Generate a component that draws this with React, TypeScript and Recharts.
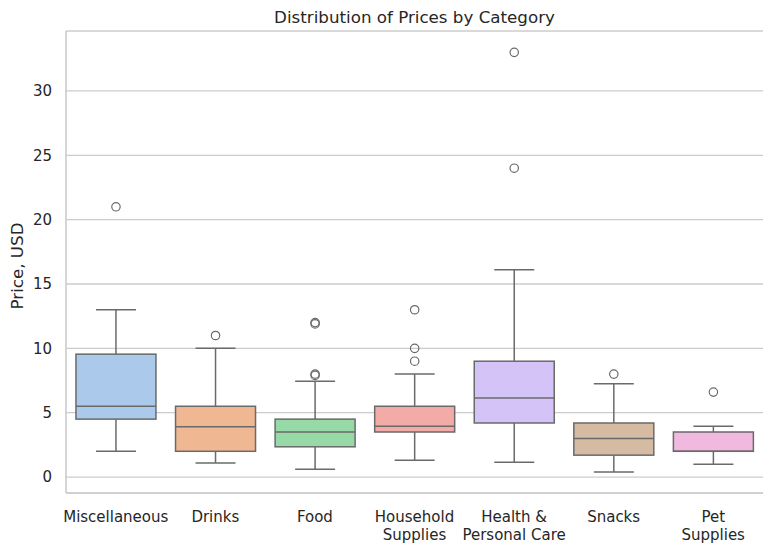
import React from "react";
import { ComposedChart, Bar, XAxis, YAxis, CartesianGrid } from "recharts";

const categories = [
  "Miscellaneous",
  "Drinks",
  "Food",
  "Household\nSupplies",
  "Health &\nPersonal Care",
  "Snacks",
  "Pet\nSupplies",
];
const whiskerLow = [2.0, 1.1, 0.6, 1.3, 1.15, 0.4, 1.0];
const q1 = [4.5, 2.0, 2.35, 3.5, 4.2, 1.7, 2.0];
const median = [5.5, 3.9, 3.5, 3.95, 6.15, 3.0, 2.0];
const q3 = [9.55, 5.5, 4.5, 5.5, 9.0, 4.2, 3.5];
const whiskerHigh = [13.0, 10.0, 7.45, 8.0, 16.1, 7.25, 3.95];
const outliers = [[21], [11], [12, 11.9, 8, 7.9], [13, 10, 9], [33, 24], [8], [6.6]];
const yTicks = [0, 5, 10, 15, 20, 25, 30];

const palette = ["#abc9ea", "#efb792", "#98daa7", "#f3aba8", "#d3c3f6", "#d6bba3", "#f1b9e0"];
const lineColor = "#6a6a6a";
const gridColor = "#cccccc";
const textColor = "#262626";
const font = "'DejaVu Sans', sans-serif";

const data = categories.map((name, i) => ({
  name,
  lo: whiskerLow[i],
  q1: q1[i],
  med: median[i],
  q3: q3[i],
  hi: whiskerHigh[i],
  out: outliers[i],
}));

function BoxShape(props: any) {
  const { x, y, width, height, payload, index } = props;
  const { lo, hi } = payload;
  // map a value to pixels using the bar's own scaled extent (lo..hi)
  const py = (v: number) => y + (height * (hi - v)) / (hi - lo);
  const cx = x + width / 2;
  const cap = width / 4;
  return (
    <g>
      <line x1={cx} x2={cx} y1={py(hi)} y2={py(payload.q3)} stroke={lineColor} strokeWidth={1.5} />
      <line x1={cx} x2={cx} y1={py(payload.q1)} y2={py(lo)} stroke={lineColor} strokeWidth={1.5} />
      <line x1={cx - cap} x2={cx + cap} y1={py(hi)} y2={py(hi)} stroke={lineColor} strokeWidth={1.5} />
      <line x1={cx - cap} x2={cx + cap} y1={py(lo)} y2={py(lo)} stroke={lineColor} strokeWidth={1.5} />
      <rect
        x={x}
        y={py(payload.q3)}
        width={width}
        height={py(payload.q1) - py(payload.q3)}
        fill={palette[index]}
        stroke={lineColor}
        strokeWidth={1.5}
      />
      <line x1={x} x2={x + width} y1={py(payload.med)} y2={py(payload.med)} stroke={lineColor} strokeWidth={1.5} />
      {payload.out.map((v: number, k: number) => (
        <circle key={k} cx={cx} cy={py(v)} r={4.2} fill="none" stroke={lineColor} strokeWidth={1.2} />
      ))}
    </g>
  );
}

function CategoryTick(props: any) {
  const { x, y, payload } = props;
  const lines = String(payload.value).split("\n");
  return (
    <text x={x} y={y + 27} textAnchor="middle" fill={textColor} fontSize={15} fontFamily={font}>
      {lines.map((l, i) => (
        <tspan key={i} x={x} dy={i === 0 ? 0 : 17.5}>
          {l}
        </tspan>
      ))}
    </text>
  );
}

export default function App() {
  return (
    <div style={{ position: "absolute", left: 0, top: 0, width: 773, height: 549, background: "#fff" }}>
      <ComposedChart
        width={773}
        height={549}
        data={data}
        margin={{ top: 31, right: 10, bottom: 0, left: 12 }}
        barCategoryGap="10%"
      >
        <CartesianGrid vertical={false} stroke={gridColor} strokeWidth={1.3} />
        <XAxis
          dataKey="name"
          type="category"
          height={56}
          tickLine={false}
          tickSize={0}
          axisLine={{ stroke: gridColor, strokeWidth: 1.6 }}
          tick={<CategoryTick />}
          interval={0}
        />
        <XAxis xAxisId="top" orientation="top" dataKey="name" height={0} tick={false} tickLine={false} axisLine={{ stroke: gridColor, strokeWidth: 1.6 }} />
        <YAxis
          type="number"
          domain={[-1.24, 34.66]}
          ticks={yTicks}
          width={54}
          tickLine={false}
          tickSize={0}
          tickMargin={14}
          axisLine={{ stroke: gridColor, strokeWidth: 1.6 }}
          tick={{ fill: textColor, fontSize: 15, fontFamily: font }}
          allowDataOverflow
        />
        <YAxis yAxisId="right" orientation="right" width={0} tick={false} tickLine={false} axisLine={{ stroke: gridColor, strokeWidth: 1.6 }} />
        <Bar dataKey={(d: any) => [d.lo, d.hi]} shape={<BoxShape />} isAnimationActive={false} />
      </ComposedChart>
      <svg width={773} height={549} style={{ position: "absolute", left: 0, top: 0, pointerEvents: "none" }}>
        <text x={414.5} y={23} textAnchor="middle" fontSize={16.7} fontFamily={font} fill={textColor}>
          Distribution of Prices by Category
        </text>
        <text
          x={23}
          y={266}
          textAnchor="middle"
          fontSize={16.7}
          fontFamily={font}
          fill={textColor}
          transform="rotate(-90 23 266)"
        >
          Price, USD
        </text>
      </svg>
    </div>
  );
}
